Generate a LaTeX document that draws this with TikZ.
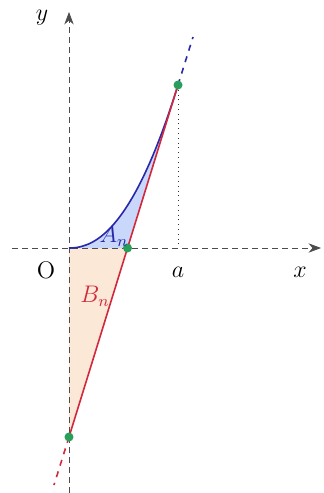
\documentclass[tikz,border=0pt]{standalone}
\usepackage{tikz}
\usetikzlibrary{arrows.meta,positioning}

\definecolor{curvecol}{RGB}{40,40,170}
\definecolor{tancol}{RGB}{210,40,60}
\definecolor{dotcol}{RGB}{40,160,90}
\definecolor{afill}{RGB}{200,215,250}
\definecolor{bfill}{RGB}{252,232,214}

\begin{document}
\begin{tikzpicture}[x=0.5pt, y=0.5pt,
      axis/.style={densely dashed, thin, color=black!70, -{Stealth[length=2.2mm]}},
      curve/.style={thick, color=curvecol},
      tanline/.style={thick, color=tancol},
      tanext/.style={thick, dashed, color=tancol},
      tanup/.style={thick, dashed, color=curvecol},
      guide/.style={dotted, color=black!80},
      pt/.style={circle, fill=dotcol, inner sep=0pt, minimum size=4.5pt},
      lbl/.style={font=\large},
    ]
    \useasboundingbox (-69,-245) rectangle (255,248);

    % key points
    \coordinate (O) at (0,0);
    \coordinate (T) at (109,163);
    \coordinate (P) at (58.5,0);
    \coordinate (Q) at (0,-189);
    \coordinate (A) at (109,0);
    \coordinate (top) at (124,211);
    \coordinate (bot) at (-15,-237);
    \coordinate (xs) at (-57,0);
    \coordinate (xe) at (252,0);
    \coordinate (ys) at (0,-245);
    \coordinate (ye) at (0,236);

    % regions
    \fill[bfill] (O) -- (P) -- (Q) -- cycle;
    \fill[afill] (O) -- plot[domain=0:109, samples=40] (\x, {163*(\x/109)^2.16}) -- (P) -- cycle;

    % axes
    \draw[axis] (xs) -- (xe);
    \draw[axis] (ys) -- (ye);
    \draw[guide] (T) -- (A);

    % curve and tangent
    \draw[curve] plot[domain=0:109, samples=40] (\x, {163*(\x/109)^2.16});
    \draw[tanup] (T) -- (top);
    \draw[tanline] (T) -- (Q);
    \draw[tanext] (Q) -- (bot);

    \node[pt] (tp) at (T) {};
    \node[pt] (pp) at (P) {};
    \node[pt] (qp) at (Q) {};

    % labels
    \node[lbl] (ylab) at (-27,230) {$y$};
    \node[lbl] (xlab) at (231,-24) {$x$};
    \node[lbl] (olab) at (-23,-22) {O};
    \node[lbl] (alab) at (109,-24) {$a$};
    \node[lbl, color=curvecol] (an) at (45,12) {$A_n$};
    \node[lbl, color=tancol] (bn) at (26,-48) {$B_n$};
  \end{tikzpicture}
\end{document}
